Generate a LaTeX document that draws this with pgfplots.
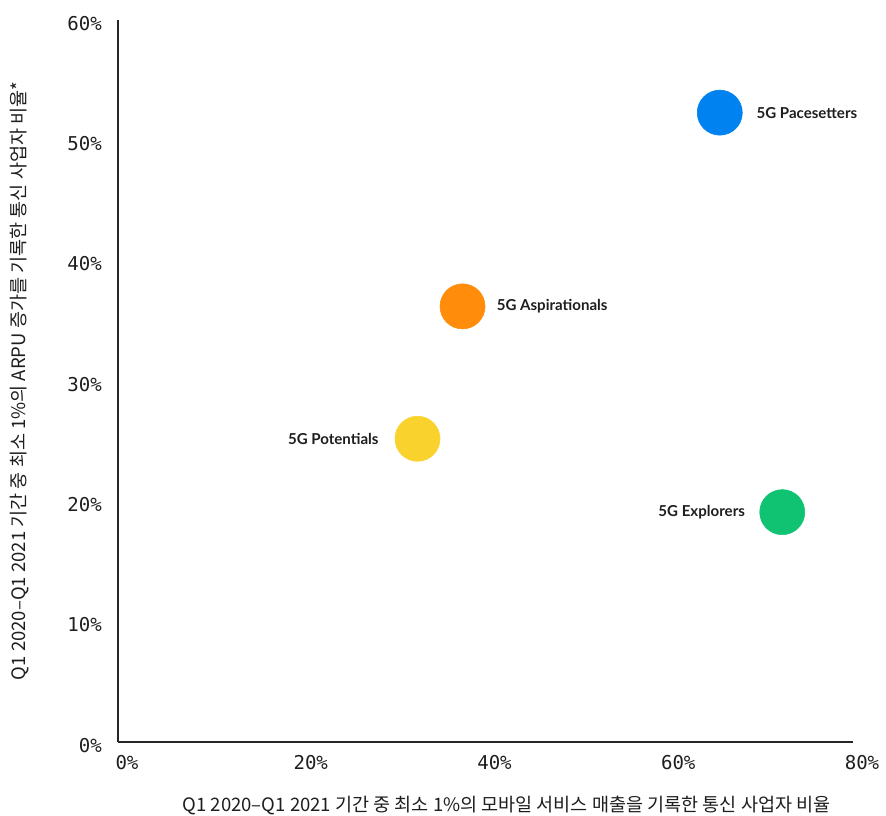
\documentclass[border=0pt]{standalone}
\usepackage{fontspec}
\usepackage{pgfplots}
\pgfplotsset{compat=1.18}
\setmainfont{Lato}
\newfontfamily\krfont{Noto Sans CJK KR}
\newfontfamily\monofont{DejaVu Sans Mono}

\definecolor{pBlue}{HTML}{0082F0}
\definecolor{pOrange}{HTML}{FF8C0A}
\definecolor{pYellow}{HTML}{FAD22D}
\definecolor{pGreen}{HTML}{0FC373}
\definecolor{inkDark}{HTML}{1E1E1E}

\begin{document}
\begin{tikzpicture}
% page frame
\path[use as bounding box] (-88.5pt,-55.5pt) rectangle (576pt,556.5pt);
\begin{axis}[
  at={(0,0)}, anchor=south west,
  scale only axis, width=551.25pt, height=541.5pt,
  xmin=0, xmax=80, ymin=0, ymax=60,
  axis x line*=bottom, axis y line*=left,
  axis line style={draw=black!85, line width=1.1pt},
  xtick={0,20,40,60,80}, ytick={0,10,20,30,40,50,60},
  /pgf/number format/assume math mode=true,
  xticklabel={\pgfmathprintnumber{\tick}\%},
  yticklabel={\pgfmathprintnumber{\tick}\%},
  major tick length=0pt,
  tick style={draw=none},
  ticklabel style={font=\monofont\fontsize{14.3}{16}\selectfont, text=inkDark, inner sep=0pt},
  xticklabel style={anchor=center, yshift=-15.75pt, xshift=6.75pt},
  yticklabel style={anchor=east, xshift=-12pt, yshift=-2.5pt},
  clip=false,
]
\addplot[only marks, mark=*, mark size=16.9pt, color=pBlue] coordinates {(65.5,52.3)};
\addplot[only marks, mark=*, mark size=16.9pt, color=pOrange] coordinates {(37.5,36.2)};
\addplot[only marks, mark=*, mark size=16.9pt, color=pYellow] coordinates {(32.6,25.2)};
\addplot[only marks, mark=*, mark size=16.9pt, color=pGreen] coordinates {(72.3,19.1)};

\begin{scope}[every node/.style={font=\bfseries\fontsize{11.3}{13}\selectfont, text=inkDark, inner sep=0pt}]
\node[anchor=west, xshift=27.4pt] at (axis cs:65.5,52.3) {5G Pacesetters};
\node[anchor=west, xshift=25.5pt] at (axis cs:37.5,36.2) {5G Aspirationals};
\node[anchor=east, xshift=-29pt] at (axis cs:32.6,25.2) {5G Potentials};
\node[anchor=east, xshift=-27.75pt] at (axis cs:72.3,19.1) {5G Explorers};
\end{scope}

\node[font=\krfont\fontsize{13.9}{16}\selectfont, text=inkDark, anchor=center]
  at ([yshift=-48pt]axis description cs:0.5286,0)
  {Q1 2020–Q1 2021 기간 중 최소 1\%의 모바일 서비스 매출을 기록한 통신 사업자 비율};
\node[font=\krfont\fontsize{13.9}{16}\selectfont, text=inkDark, anchor=center, rotate=90]
  at ([xshift=-73.5pt]axis description cs:0,0.5)
  {Q1 2020–Q1 2021 기간 중 최소 1\%의 ARPU 증가를 기록한 통신 사업자 비율*};
\end{axis}
\end{tikzpicture}
\end{document}
